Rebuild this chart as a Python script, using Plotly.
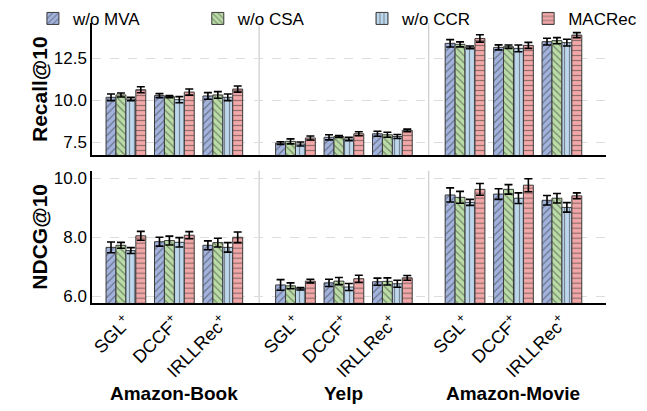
import plotly.graph_objects as go
from plotly.subplots import make_subplots

datasets = ["Amazon-Book", "Yelp", "Amazon-Movie"]
models = ["SGL<sup>+</sup>", "DCCF<sup>+</sup>", "IRLLRec<sup>+</sup>"]
series = ["w/o MVA", "w/o CSA", "w/o CCR", "MACRec"]

recall_mva = [10.18, 10.28, 10.26, 7.46, 7.80, 8.01, 13.39, 13.15, 13.49]
recall_csa = [10.32, 10.22, 10.32, 7.56, 7.85, 7.95, 13.33, 13.19, 13.55]
recall_ccr = [10.08, 10.04, 10.18, 7.40, 7.70, 7.85, 13.15, 13.09, 13.43]
recall_mac = [10.63, 10.49, 10.67, 7.76, 8.01, 8.21, 13.68, 13.27, 13.88]

recall_err_mva = [0.20, 0.12, 0.20, 0.08, 0.15, 0.15, 0.22, 0.15, 0.20]
recall_err_csa = [0.12, 0.06, 0.20, 0.15, 0.06, 0.15, 0.15, 0.10, 0.18]
recall_err_ccr = [0.10, 0.18, 0.20, 0.12, 0.10, 0.12, 0.08, 0.20, 0.20]
recall_err_mac = [0.18, 0.18, 0.18, 0.12, 0.12, 0.08, 0.22, 0.18, 0.15]

ndcg_mva = [7.66, 7.85, 7.73, 6.39, 6.46, 6.50, 9.43, 9.46, 9.25]
ndcg_csa = [7.73, 7.89, 7.82, 6.36, 6.52, 6.51, 9.35, 9.62, 9.32]
ndcg_ccr = [7.55, 7.83, 7.66, 6.26, 6.32, 6.43, 9.18, 9.32, 9.01]
ndcg_mac = [8.05, 8.07, 8.00, 6.52, 6.60, 6.63, 9.62, 9.76, 9.40]

ndcg_err_mva = [0.18, 0.15, 0.15, 0.18, 0.12, 0.12, 0.24, 0.18, 0.16]
ndcg_err_csa = [0.10, 0.15, 0.15, 0.10, 0.12, 0.12, 0.20, 0.16, 0.16]
ndcg_err_ccr = [0.10, 0.16, 0.16, 0.04, 0.12, 0.12, 0.10, 0.18, 0.16]
ndcg_err_mac = [0.15, 0.12, 0.18, 0.06, 0.12, 0.08, 0.20, 0.22, 0.10]

colors = ["#a2b3de", "#badca6", "#bdd7ec", "#f2a8a8"]
patterns = ["/", "\\", "|", "-"]

# group positions: datasets separated by an extra half slot
xpos = [d * 3.5 + m for d in range(len(datasets)) for m in range(len(models))]
ticktext = [m for d in datasets for m in models]

recall = [recall_mva, recall_csa, recall_ccr, recall_mac]
recall_err = [recall_err_mva, recall_err_csa, recall_err_ccr, recall_err_mac]
ndcg = [ndcg_mva, ndcg_csa, ndcg_ccr, ndcg_mac]
ndcg_err = [ndcg_err_mva, ndcg_err_csa, ndcg_err_ccr, ndcg_err_mac]

FONT = "Liberation Sans, Arial, sans-serif"
legend_ids = ["legend", "legend2", "legend3", "legend4"]
legend_x = [0.039, 0.297, 0.554, 0.814]

fig = make_subplots(rows=2, cols=1, shared_xaxes=True, vertical_spacing=0.055,
                    row_heights=[0.5, 0.5])

for i, name in enumerate(series):
    for row, vals, errs in [(1, recall[i], recall_err[i]), (2, ndcg[i], ndcg_err[i])]:
        fig.add_trace(go.Bar(
            x=xpos, y=vals, name=name, showlegend=(row == 1),
            legend=legend_ids[i], legendgroup=name,
            marker=dict(color=colors[i],
                        line=dict(color="#3a3a3a", width=1),
                        pattern=dict(shape=patterns[i], fgcolor="#333333",
                                     size=5, solidity=0.25)),
            error_y=dict(type="data", array=errs, color="black",
                         thickness=1.6, width=4),
        ), row=row, col=1)

legend_common = dict(orientation="h", xref="container", yref="container",
                     y=0.973, xanchor="left", yanchor="middle",
                     font=dict(size=17), bgcolor="rgba(0,0,0,0)")

fig.update_layout(
    width=639, height=403,
    barmode="group", bargap=0.18, bargroupgap=0,
    plot_bgcolor="white", paper_bgcolor="white",
    margin=dict(l=84, r=41, t=15, b=108, autoexpand=False),
    font=dict(family=FONT, size=18, color="black"),
    **{lid: dict(x=lx, **legend_common) for lid, lx in zip(legend_ids, legend_x)}
)

xr = [-0.70, 9.91]
fig.update_xaxes(range=xr, showline=True, linecolor="black", linewidth=1.5,
                 showgrid=False, ticks="", zeroline=False,
                 tickvals=xpos, ticktext=ticktext)
fig.update_xaxes(showticklabels=False, row=1, col=1)
fig.update_xaxes(tickangle=-45, tickfont=dict(size=18), row=2, col=1)

fig.update_yaxes(showline=True, linecolor="black", linewidth=1.5, ticks="",
                 showgrid=True, gridcolor="#dddddd", griddash="dash",
                 zeroline=False, tickfont=dict(size=17))
fig.update_yaxes(range=[6.73, 14.6], tickvals=[7.5, 10.0, 12.5], tickformat=".1f",
                 title=dict(text="<b>Recall@10</b>", font=dict(size=21), standoff=0),
                 row=1, col=1)
fig.update_yaxes(range=[5.78, 10.25], tickvals=[6.0, 8.0, 10.0], tickformat=".1f",
                 title=dict(text="<b>NDCG@10</b>", font=dict(size=21), standoff=0),
                 row=2, col=1)

# dataset separators
for sep in [2.75, 6.25]:
    for ax in ["", "2"]:
        fig.add_shape(type="line", xref="x" + ax, yref="y" + ax + " domain",
                      x0=sep, x1=sep, y0=0, y1=1,
                      line=dict(color="#cccccc", width=1.2), layer="below")

for d, name in enumerate(datasets):
    center = d * 3.5 + 1
    fig.add_annotation(x=center, xref="x2", y=-0.323, yref="paper",
                       text="<b>" + name + "</b>", showarrow=False,
                       font=dict(size=19), yanchor="middle")

fig.write_html("out.html")
